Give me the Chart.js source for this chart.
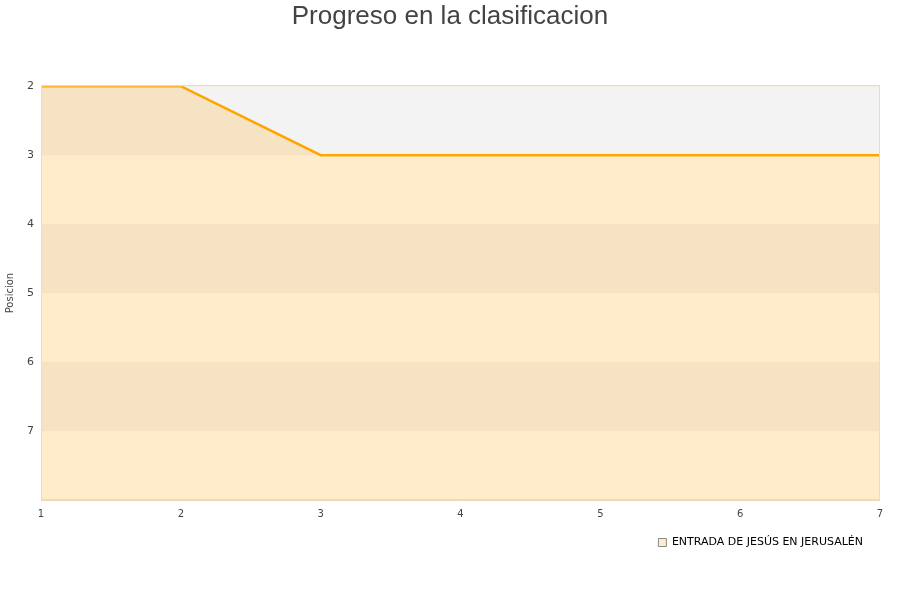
<!DOCTYPE html>
<html>
<head>
<meta charset="utf-8">
<script src="https://cdn.jsdelivr.net/npm/chart.js@4"></script>
<style>
  html, body { margin: 0; padding: 0; background: #fff; }
  #wrap { width: 900px; height: 600px; }
</style>
</head>
<body>
<div id="wrap"><canvas id="chart" width="900" height="600"></canvas></div>
<script>
const jornadas = [1, 2, 3, 4, 5, 6, 7];
const posiciones = [2, 2, 3, 3, 3, 3, 3];
const equipo = 'ENTRADA DE JESÚS EN JERUSALÉN';
const bandas = [2, 3, 4, 5, 6, 7];

// bandas de fondo alternas dentro del area del grafico
const bandPlugin = {
  id: 'bands',
  afterLayout(chart) {
    // titulo centrado en todo el lienzo, leyenda algo mas a la izquierda
    if (chart.titleBlock) { chart.titleBlock.left = 0; chart.titleBlock.right = chart.width; }
    if (chart.legend) chart.legend.right -= 8;
  },
  beforeDatasetsDraw(chart) {
    const { ctx, chartArea } = chart;
    const y = chart.scales.y;
    ctx.save();
    bandas.forEach((b, i) => {
      const top = y.getPixelForValue(b);
      const bottom = y.getPixelForValue(b + 1);
      ctx.fillStyle = i % 2 === 0 ? '#f6e3c3' : '#ffecca';
      ctx.fillRect(chartArea.left, top, chartArea.right - chartArea.left, bottom - top);
      ctx.strokeStyle = '#ecd9b8';
      ctx.lineWidth = 1;
      ctx.beginPath();
      ctx.moveTo(chartArea.left, Math.round(bottom) + 0.5);
      ctx.lineTo(chartArea.right, Math.round(bottom) + 0.5);
      ctx.stroke();
    });
    ctx.restore();
  },
  afterDatasetsDraw(chart) {
    const { ctx, chartArea } = chart;
    ctx.save();
    ctx.strokeStyle = '#dddddd';
    ctx.lineWidth = 1;
    ctx.strokeRect(Math.round(chartArea.left) + 0.5, Math.round(chartArea.top) - 0.5,
      Math.round(chartArea.right - chartArea.left) - 1, Math.round(chartArea.bottom - chartArea.top));
    ctx.restore();
  }
};

new Chart(document.getElementById('chart'), {
  type: 'line',
  plugins: [bandPlugin],
  data: {
    datasets: [{
      label: equipo,
      data: jornadas.map((j, i) => ({ x: j, y: posiciones[i] })),
      borderColor: '#ffa500',
      borderWidth: 2.5,
      backgroundColor: '#f3f3f3',
      fill: 'end',
      pointRadius: 0,
      tension: 0
    }]
  },
  options: {
    responsive: false,
    animation: false,
    layout: { padding: { left: 0, right: 20, top: 0, bottom: 42 } },
    scales: {
      x: {
        type: 'linear', min: 1, max: 7,
        grid: { display: false, drawTicks: false },
        border: { display: false },
        ticks: { stepSize: 1, color: '#444', font: { family: 'DejaVu Sans', size: 10 }, padding: 8 }
      },
      y: {
        reverse: true, min: 2, max: 8,
        grid: { display: false, drawTicks: false },
        border: { display: false },
        title: { display: true, text: 'Posicion', color: '#444', font: { family: 'DejaVu Sans', size: 10 } },
        ticks: { stepSize: 1, color: '#444', font: { family: 'DejaVu Sans', size: 11 }, padding: 7,
          callback: v => v === 8 ? '' : v }
      }
    },
    plugins: {
      title: {
        display: true, text: 'Progreso en la clasificacion', color: '#444',
        font: { family: 'Liberation Sans', size: 26, weight: 'normal' },
        padding: { top: 1, bottom: 54 }
      },
      legend: {
        position: 'bottom', align: 'end',
        labels: {
          color: '#111', boxWidth: 8, boxHeight: 8, padding: 9,
          font: { family: 'DejaVu Sans', size: 11 },
          generateLabels: chart => [{
            text: equipo, fillStyle: '#ffecca', strokeStyle: '#888', lineWidth: 1, datasetIndex: 0
          }]
        }
      },
      tooltip: { enabled: false }
    }
  }
});
</script>
</body>
</html>
